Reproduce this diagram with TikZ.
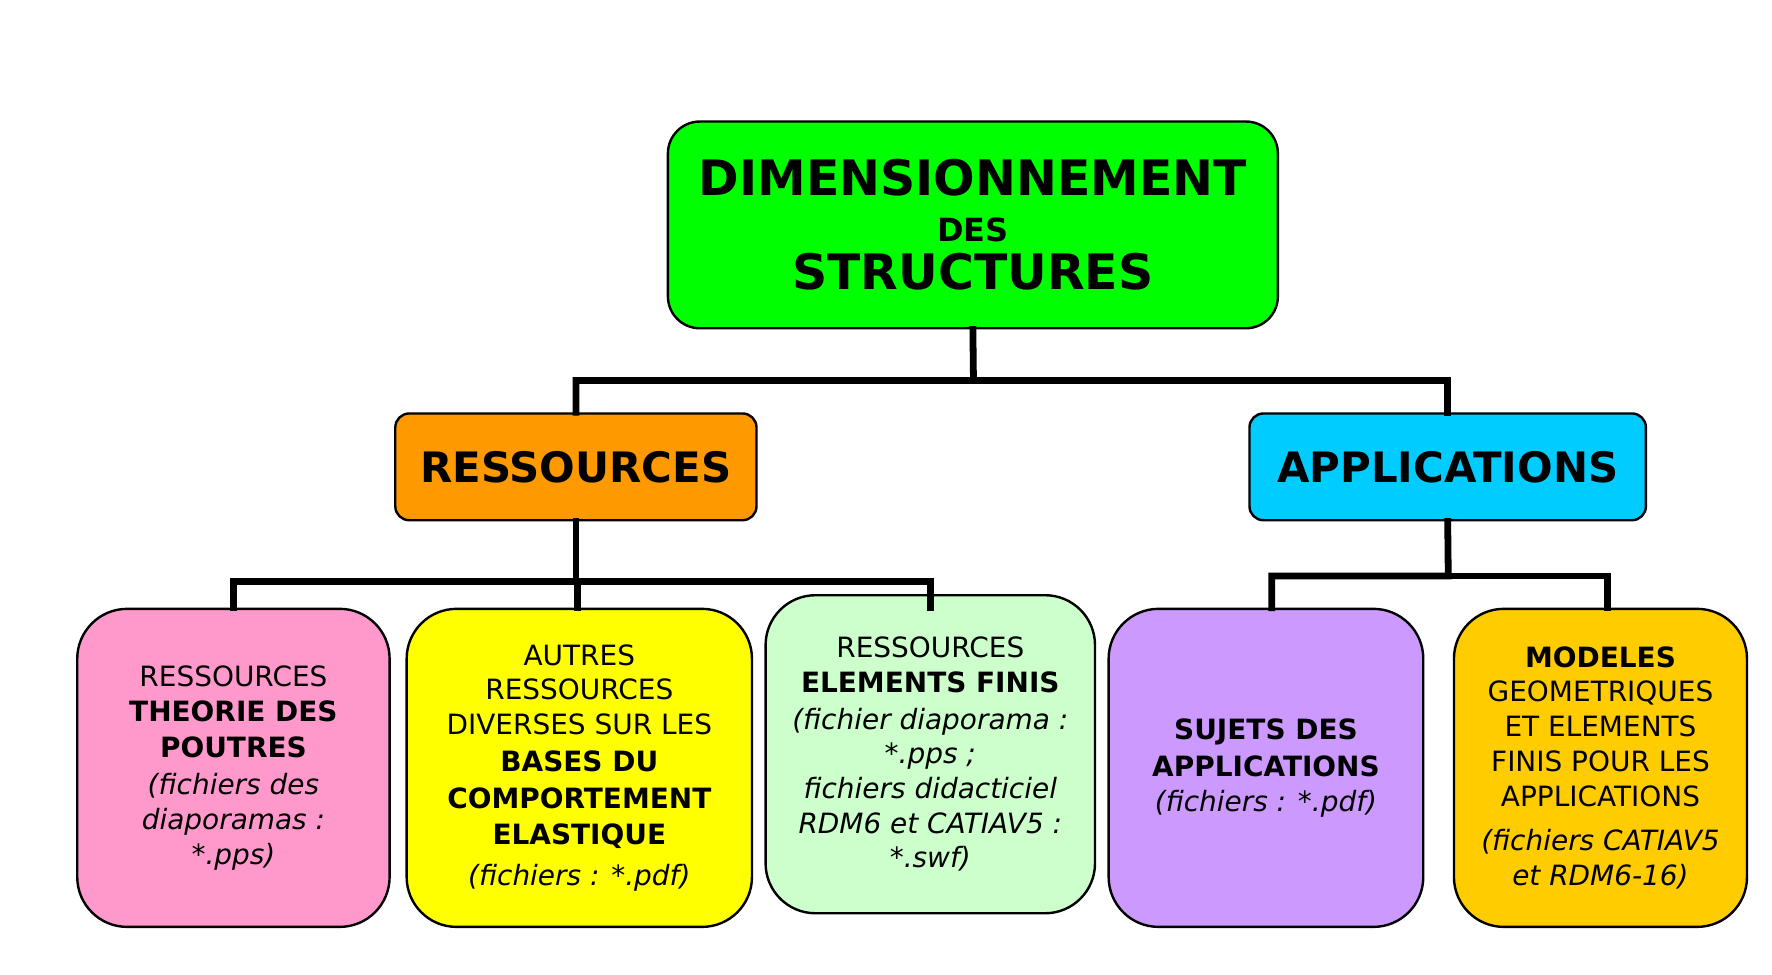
\documentclass[tikz,border=0pt]{standalone}
\usepackage{fontspec}
\setmainfont{DejaVu Sans}
\begin{document}
\begin{tikzpicture}[x=0.02cm,y=-0.02cm,
  box/.style={draw=black,line width=1.2pt,align=center,inner sep=0pt,font=\fontsize{14}{17.4}\selectfont},
  conn/.style={line width=3.4pt,line cap=rect}]
\definecolor{cgreen}{HTML}{00FF00}
\definecolor{corange}{HTML}{FF9900}
\definecolor{ccyan}{HTML}{00CCFF}
\definecolor{cpink}{HTML}{FF99CC}
\definecolor{cyellow}{HTML}{FFFF00}
\definecolor{clgreen}{HTML}{CCFFCC}
\definecolor{cpurple}{HTML}{CC99FF}
\definecolor{cgold}{HTML}{FFCC00}
\useasboundingbox (0,0) rectangle (1560,858);
\node[box,fill=cgreen,rounded corners=16pt,minimum width=537*0.02cm,minimum height=182*0.02cm,font=\fontsize{24.5}{26}\selectfont\bfseries] (top) at (856.5,198)
 {DIMENSIONNEMENT\\[-3pt]{\fontsize{16}{18}\selectfont DES}\\[-2pt]STRUCTURES};
\node[box,fill=corange,rounded corners=7pt,minimum width=318*0.02cm,minimum height=94*0.02cm,font=\fontsize{21}{24}\selectfont\bfseries] (res) at (507,411)
 {RESSOURCES};
\node[box,fill=ccyan,rounded corners=7pt,minimum width=349*0.02cm,minimum height=94*0.02cm,font=\fontsize{21}{24}\selectfont\bfseries] (app) at (1274.5,411)
 {APPLICATIONS};
\tikzset{bot/.style={box,rounded corners=25pt,minimum height=280*0.02cm}}
\node[bot,fill=cpink,minimum width=275*0.02cm] (b1) at (205.5,676)
 {RESSOURCES\\{\bfseries THEORIE DES}\\[1pt]{\bfseries POUTRES}\\[1pt]\itshape (fichiers des\\\itshape diaporamas :\\\itshape *.pps)};
\node[bot,fill=cyellow,minimum width=304*0.02cm] (b2) at (510,676)
 {AUTRES\\RESSOURCES\\DIVERSES SUR LES\\[1pt]{\bfseries BASES DU}\\[1pt]{\bfseries COMPORTEMENT}\\[1pt]{\bfseries ELASTIQUE}\\[3pt]\itshape (fichiers : *.pdf)};
\node[bot,fill=clgreen,minimum width=290*0.02cm] (b3) at (819,664)
 {RESSOURCES\\{\bfseries ELEMENTS FINIS}\\[1pt]\itshape (fichier diaporama :\\\itshape *.pps ;\\\itshape fichiers didacticiel\\\itshape RDM6 et CATIAV5 :\\\itshape *.swf)};
\node[bot,fill=cpurple,minimum width=277*0.02cm] (b4) at (1114.5,676)
 {{\bfseries SUJETS DES}\\[1pt]{\bfseries APPLICATIONS}\\\itshape (fichiers : *.pdf)};
\node[bot,fill=cgold,minimum width=258*0.02cm] (b5) at (1409,676)
 {{\bfseries MODELES}\\GEOMETRIQUES\\ET ELEMENTS\\FINIS POUR LES\\APPLICATIONS\\[5pt]\itshape (fichiers CATIAV5\\\itshape et RDM6-16)};
\coordinate (j1) at (857,335);
\coordinate (j2) at (507,512);
\coordinate (j3) at (1275,507);
\draw[conn] (top.south) -- (j1) -| (res.north);
\draw[conn] (j1) -| (app.north);
\draw[conn] (res.south) -- (j2) -| (b1.north);
\draw[conn] (j2) -| ([xshift=-1pt]b2.north);
\draw[conn] (j2) -| ([yshift=-12*0.02cm]b3.north);
\draw[conn] (app.south) -- (j3) -| ([xshift=5*0.02cm]b4.north);
\draw[conn] (j3) -| ([xshift=6*0.02cm]b5.north);
\end{tikzpicture}
\end{document}
